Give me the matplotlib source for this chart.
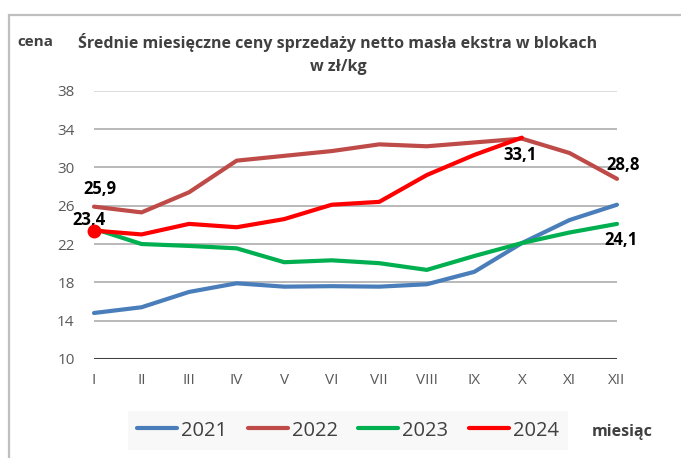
import matplotlib
matplotlib.use("Agg")
import matplotlib.pyplot as plt
from matplotlib.patches import Rectangle

months = ["I", "II", "III", "IV", "V", "VI", "VII", "VIII", "IX", "X", "XI", "XII"]
y2021 = [14.8, 15.4, 17.0, 17.9, 17.55, 17.6, 17.55, 17.8, 19.1, 22.1, 24.5, 26.1]
y2022 = [25.9, 25.3, 27.4, 30.7, 31.2, 31.7, 32.4, 32.2, 32.6, 33.0, 31.5, 28.8]
y2023 = [23.6, 22.0, 21.8, 21.55, 20.1, 20.3, 20.0, 19.3, 20.75, 22.1, 23.2, 24.1]
y2024 = [23.4, 23.0, 24.1, 23.75, 24.6, 26.1, 26.4, 29.2, 31.3, 33.1]
yticks = [10, 14, 18, 22, 26, 30, 34, 38]

plt.rcParams['font.family'] = ['Open Sans', 'DejaVu Sans']

fig = plt.figure(figsize=(6.81, 4.58), dpi=100)
ax = fig.add_axes([94/681, 1-359/458, (617-94)/681, (359-90.7)/458])

x = list(range(len(months)))
# gridlines
for v in yticks:
    if v == 10:
        ax.axhline(v, color='#404040', lw=2.2, zorder=1)
    elif v == 38:
        ax.axhline(v, color='#d9d9d9', lw=1.3, zorder=1)
    else:
        ax.axhline(v, color='#b3b3b3', lw=1.3, zorder=1)

kw = dict(lw=3, solid_capstyle='round', clip_on=False)
l1, = ax.plot(x, y2021, color='#4a7ebb', zorder=3, label='2021', **kw)
l2, = ax.plot(x, y2022, color='#be4b48', zorder=3, label='2022', **kw)
l3, = ax.plot(x, y2023, color='#00b050', zorder=3, label='2023', **kw)
l4, = ax.plot(x[:len(y2024)], y2024, color='#ff0000', zorder=4, label='2024', **kw)
ax.plot([0], [y2024[0]], 'o', color='#ff0000', ms=9, zorder=5, clip_on=False)

ax.set_xlim(0, 11)
ax.set_ylim(10, 38)
ax.set_yticks(yticks)
ax.set_xticks(x)
ax.set_xticklabels(months)
ax.tick_params(length=0, labelsize=11, colors='#595959')
ax.tick_params(axis='y', pad=14)
ax.tick_params(axis='x', pad=10)
for s in ax.spines.values():
    s.set_visible(False)

def fmt(v):
    return f"{v:.1f}".replace('.', ',')

lab = dict(fontsize=12, fontweight='bold', color='#000000', ha='center', va='center')
ax.annotate(fmt(y2022[0]), (0, y2022[0]), xytext=(6, 18), textcoords='offset pixels', **lab)
ax.annotate(fmt(y2024[0]), (0, y2024[0]), xytext=(-5, 11), textcoords='offset pixels', **lab)
ax.annotate(fmt(y2024[9]), (9, y2024[9]), xytext=(-2, -17), textcoords='offset pixels', **lab)
ax.annotate(fmt(y2022[11]), (11, y2022[11]), xytext=(6, 14), textcoords='offset pixels', **lab)
ax.annotate(fmt(y2023[11]), (11, y2023[11]), xytext=(4, -16), textcoords='offset pixels', **lab)

# titles
fig.text(338/681, 1-42/458, "Średnie miesięczne ceny sprzedaży netto masła ekstra w blokach",
         ha='center', va='center', fontsize=11.5, fontweight='bold', color='#404040')
fig.text(338/681, 1-67/458, "w zł/kg", ha='center', va='center', fontsize=11.5,
         fontweight='bold', color='#404040')
fig.text(35/681, 1-42/458, "cena", ha='center', va='center', fontsize=11,
         fontweight='bold', color='#404040')
fig.text(622/681, 1-432/458, "miesiąc", ha='center', va='center', fontsize=11.5,
         fontweight='bold', color='#404040')

leg = fig.legend(handles=[l1, l2, l3, l4], loc='center', bbox_to_anchor=(348/681, 1-430.5/458),
                 ncol=4, frameon=True, fontsize=14.5, handlelength=2.0, handletextpad=0.2,
                 columnspacing=1.0, borderpad=0.45, borderaxespad=0, fancybox=False)
leg.get_frame().set_facecolor('#f7f7f7')
leg.get_frame().set_edgecolor('none')
for t in leg.get_texts():
    t.set_color('#404040')

fig.add_artist(Rectangle((9/681, -0.2), 1.2, 1.2 - 15/458, transform=fig.transFigure,
                         fill=False, edgecolor='#bfbfbf', lw=1.6))

fig.savefig("out.png", dpi=100)
